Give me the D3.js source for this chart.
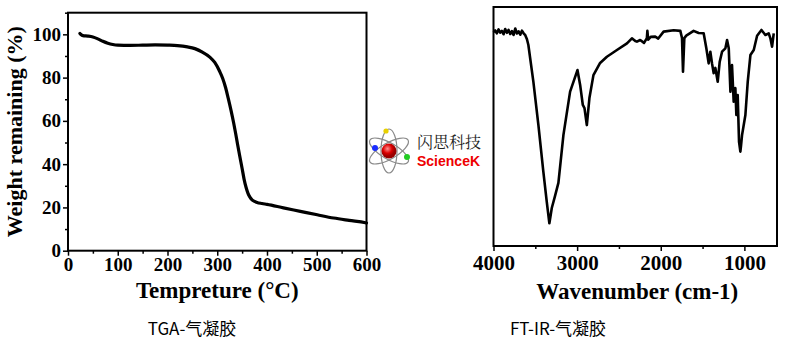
<!DOCTYPE html>
<html><head><meta charset="utf-8">
<script src="https://cdn.jsdelivr.net/npm/d3@7/dist/d3.min.js"></script>
<style>html,body{margin:0;padding:0;background:#fff;}svg{display:block;}
.tk text{font-family:'Liberation Serif','Times New Roman',serif !important;font-weight:bold;fill:#000;}
</style>
</head><body>
<svg id="c" width="811" height="344"></svg>
<script>
// ---- TGA data: temperature (°C) vs weight remaining (%)
const tgaTemp   = [24, 26, 30, 40, 50, 60, 70, 80, 90, 100, 125, 150, 175, 200, 220, 240, 255, 270, 285, 295, 305, 311, 317, 322, 328, 333, 337, 341, 345, 350, 354, 358, 362, 366, 370, 375, 380, 390, 400, 433, 467, 501, 534, 565, 598, 600];
const tgaWeight = [100.4, 99.9, 99.4, 99.2, 98.8, 97.9, 96.8, 95.9, 95.3, 95.0, 94.9, 95.0, 95.1, 95.0, 94.8, 94.2, 93.4, 91.8, 89.5, 87.0, 82.8, 79.6, 75.2, 70.5, 64.5, 59.0, 54.2, 49.0, 44.0, 38.0, 33.0, 29.2, 26.4, 24.6, 23.5, 22.8, 22.3, 21.8, 21.4, 19.8, 18.2, 16.6, 15.1, 14.0, 12.9, 12.8];
const tgaXTicks = [0, 100, 200, 300, 400, 500, 600];
const tgaYTicks = [0, 20, 40, 60, 80, 100];

// ---- FT-IR data: wavenumber (cm-1) vs transmittance (a.u.)
const irWave = [4000, 3980, 3960, 3940, 3920, 3900, 3880, 3860, 3840, 3820, 3800, 3780, 3760, 3740, 3720, 3700, 3680, 3660, 3640, 3620, 3600, 3583, 3523, 3463, 3404, 3363, 3332, 3318, 3303, 3264, 3224, 3164, 3084, 2996, 2964, 2932, 2912, 2884, 2853, 2805, 2725, 2644, 2524, 2404, 2345, 2305, 2285, 2246, 2200, 2166, 2160, 2150, 2120, 2066, 2030, 1966, 1846, 1766, 1746, 1734, 1718, 1695, 1607, 1547, 1487, 1455, 1427, 1407, 1387, 1367, 1347, 1319, 1295, 1267, 1227, 1207, 1187, 1167, 1148, 1128, 1108, 1096, 1080, 1064, 1048, 1040, 1028, 988, 960, 928, 888, 848, 796, 749, 709, 689, 669, 649];
const irTrans = [89.5, 90.2, 89.0, 90.6, 89.3, 90.0, 88.6, 90.8, 89.2, 90.4, 88.7, 89.9, 88.3, 91.0, 88.9, 89.8, 88.4, 90.1, 89.0, 88.2, 86.5, 84.1, 68.7, 50.6, 31.1, 18.5, 9.5, 12.5, 15.9, 21.0, 26.4, 46.4, 64.6, 73.6, 67.4, 59.0, 57.7, 50.6, 61.9, 71.5, 76.6, 79.2, 82.0, 84.8, 86.9, 85.8, 85.5, 86.2, 85.0, 87.0, 90.0, 86.3, 87.5, 87.6, 86.8, 89.7, 90.3, 90.0, 87.0, 72.9, 87.0, 88.0, 90.0, 89.1, 89.0, 82.7, 76.4, 81.3, 76.4, 72.3, 74.5, 68.7, 77.1, 81.3, 82.7, 86.2, 82.7, 64.6, 75.7, 60.4, 66.1, 54.8, 63.2, 43.6, 39.5, 42.0, 46.4, 54.8, 68.7, 79.9, 82.0, 88.0, 90.4, 88.3, 89.0, 86.9, 83.4, 89.0];
const irXTicks = [4000, 3000, 2000, 1000];
const irMinorTicks = [3500, 2500, 1500];

const svg = d3.select("#c");
const serif = "'Liberation Serif','Times New Roman',serif";

// ---------- TGA panel ----------
const L = {left: 68, right: 366.5, top: 12.7, bottom: 250.7};
const xT = d3.scaleLinear().domain([0, 600]).range([L.left, L.right]);
const yT = d3.scaleLinear().domain([0, 110]).range([L.bottom, L.top]);

const gT = svg.append("g");
gT.append("rect").attr("x", L.left).attr("y", L.top)
  .attr("width", L.right - L.left).attr("height", L.bottom - L.top)
  .attr("fill", "none").attr("stroke", "#000").attr("stroke-width", 2);

gT.append("g").attr("class", "tk").attr("transform", `translate(0,${L.bottom})`)
  .call(d3.axisBottom(xT).tickValues(tgaXTicks).tickSize(5).tickPadding(2).tickFormat(d3.format("d")));
gT.append("g").attr("transform", `translate(0,${L.bottom})`)
  .call(d3.axisBottom(xT).tickValues([50,150,250,350,450,550]).tickSize(3).tickFormat(""));
gT.append("g").attr("class", "tk").attr("transform", `translate(${L.left},0)`)
  .call(d3.axisLeft(yT).tickValues(tgaYTicks).tickSize(5).tickPadding(2));
gT.append("g").attr("transform", `translate(${L.left},0)`)
  .call(d3.axisLeft(yT).tickValues([10,30,50,70,90,110]).tickSize(3).tickFormat(""));
gT.selectAll(".domain").remove();
gT.selectAll(".tick line").attr("stroke", "#000").attr("stroke-width", 1.5);
gT.selectAll(".tk").attr("font-family", serif).attr("font-size", 19).attr("font-weight", "bold");
gT.selectAll(".tick text").style("font-family", serif).style("font-weight", "bold")
  .style("font-size", "19px").attr("fill", "#000");

const tgaPts = tgaTemp.map((t, i) => [t, tgaWeight[i]]);
gT.append("path").datum(tgaPts)
  .attr("d", d3.line().x(d => xT(d[0])).y(d => yT(d[1])).curve(d3.curveMonotoneX))
  .attr("fill", "none").attr("stroke", "#000").attr("stroke-width", 3.2)
  .attr("stroke-linecap", "round").attr("stroke-linejoin", "round");

gT.append("text").attr("x", (L.left + L.right) / 2).attr("y", 298)
  .attr("text-anchor", "middle").style("font-family", serif).style("font-weight", "bold")
  .style("font-size", "23px").text("Tempreture (°C)");
gT.append("text").attr("transform", `translate(22,${(L.top + L.bottom) / 2}) rotate(-90)`)
  .attr("text-anchor", "middle").style("font-family", serif).style("font-weight", "bold")
  .style("font-size", "22px").text("Weight remaining (%)");

// ---------- FT-IR panel ----------
const R = {left: 493.5, right: 777, top: 7, bottom: 246};
const xI = d3.scaleLinear().domain([4000, 610]).range([R.left, R.right]);
const yI = d3.scaleLinear().domain([0, 100]).range([R.bottom, R.top]);

const gI = svg.append("g");
gI.append("rect").attr("x", R.left).attr("y", R.top)
  .attr("width", R.right - R.left).attr("height", R.bottom - R.top)
  .attr("fill", "none").attr("stroke", "#000").attr("stroke-width", 2);
gI.append("g").attr("class", "tk").attr("transform", `translate(0,${R.bottom})`)
  .call(d3.axisBottom(xI).tickValues(irXTicks).tickSize(5).tickPadding(4).tickFormat(d3.format("d")));
gI.append("g").attr("transform", `translate(0,${R.bottom})`)
  .call(d3.axisBottom(xI).tickValues(irMinorTicks).tickSize(3).tickFormat(""));
gI.selectAll(".domain").remove();
gI.selectAll(".tick line").attr("stroke", "#000").attr("stroke-width", 1.5);
gI.selectAll(".tick text").style("font-family", serif).style("font-weight", "bold")
  .style("font-size", "21px").attr("fill", "#000");

const irPts = irWave.map((w, i) => [w, irTrans[i]]);
gI.append("path").datum(irPts)
  .attr("d", d3.line().x(d => xI(d[0])).y(d => yI(d[1])))
  .attr("fill", "none").attr("stroke", "#000").attr("stroke-width", 2.6)
  .attr("stroke-linejoin", "round");

gI.append("text").attr("x", (R.left + R.right) / 2 + 2).attr("y", 299)
  .attr("text-anchor", "middle").style("font-family", serif).style("font-weight", "bold")
  .style("font-size", "23px").text("Wavenumber (cm-1)");

// ---------- captions ----------
const cjk = "'Noto Sans CJK SC','Noto Sans',sans-serif";
svg.append("text").attr("x", 192).attr("y", 335).attr("text-anchor", "middle")
  .style("font-family", cjk).style("font-size", "17px").text("TGA-气凝胶");
svg.append("text").attr("x", 558).attr("y", 335).attr("text-anchor", "middle")
  .style("font-family", cjk).style("font-size", "17px").text("FT-IR-气凝胶");

// ---------- watermark logo ----------
const lg = svg.append("g").attr("transform", "translate(389,151)");
[-30, 30, 90].forEach(a => {
  lg.append("ellipse").attr("rx", 22).attr("ry", 8).attr("transform", `rotate(${a})`)
    .attr("fill", "none").attr("stroke", "#8a8a8a").attr("stroke-width", 1.2);
});
const rg = svg.append("defs").append("radialGradient").attr("id", "rg").attr("cx", "40%").attr("cy", "35%");
rg.append("stop").attr("offset", "0%").attr("stop-color", "#ff9090");
rg.append("stop").attr("offset", "60%").attr("stop-color", "#dd0000");
rg.append("stop").attr("offset", "100%").attr("stop-color", "#900");
lg.append("circle").attr("r", 7.5).attr("fill", "url(#rg)");
lg.append("circle").attr("cx", -14).attr("cy", -3).attr("r", 3).attr("fill", "#1a2cff");
lg.append("circle").attr("cx", -3).attr("cy", -20).attr("r", 2.6).attr("fill", "#e8d000");
lg.append("circle").attr("cx", 18).attr("cy", 6).attr("r", 3).attr("fill", "#22cc22");
svg.append("text").attr("x", 417).attr("y", 148).style("font-family", "'Noto Serif CJK SC','Noto Sans CJK SC',serif")
  .style("font-size", "16px").attr("fill", "#222").text("闪思科技");
svg.append("text").attr("x", 417).attr("y", 166).style("font-family", "'Liberation Sans',Arial,sans-serif")
  .style("font-weight", "bold").style("font-size", "14px").attr("fill", "#e00").text("ScienceK");
</script>
</body></html>
